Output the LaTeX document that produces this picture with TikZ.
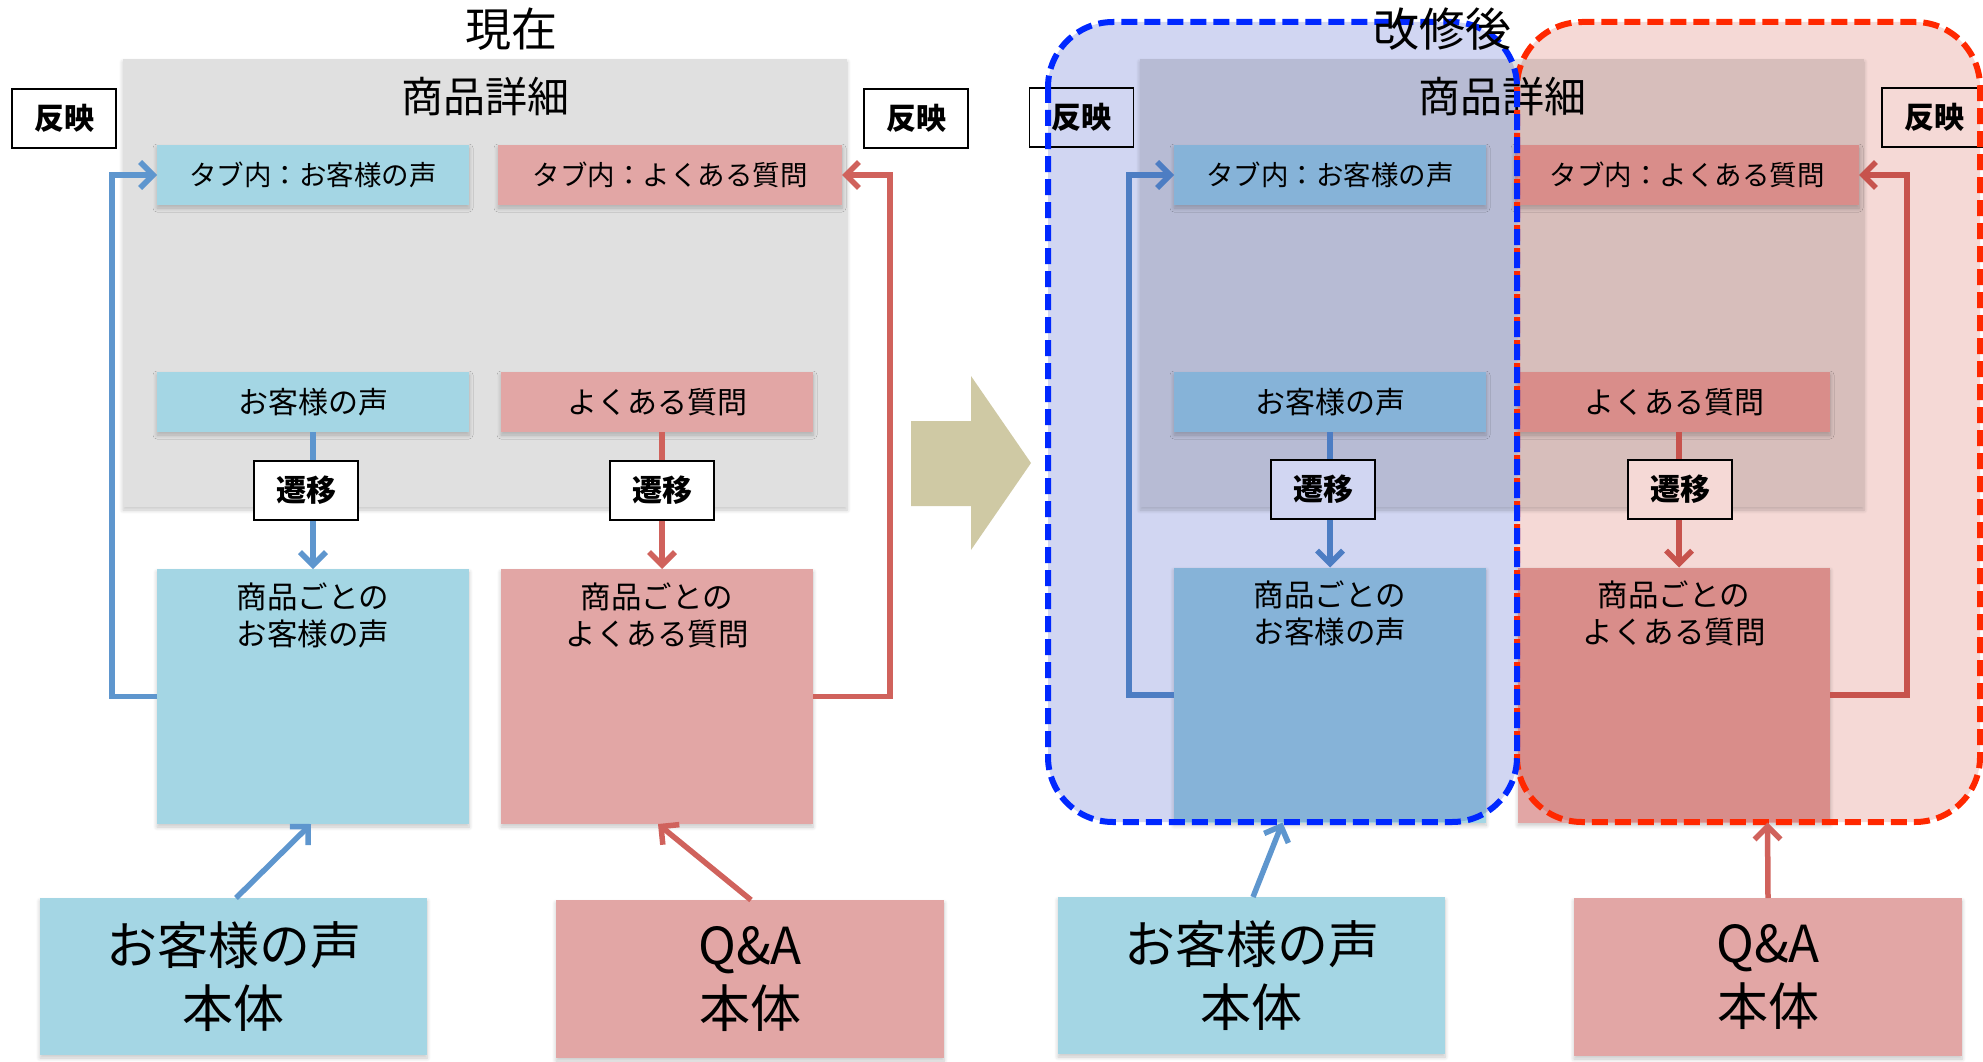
\documentclass[tikz,border=0pt]{standalone}
\usepackage{fontspec}
\setmainfont{Noto Sans CJK JP}
\usetikzlibrary{arrows.meta,shadows.blur,calc}
\definecolor{graybg}{RGB}{224,224,224}
\definecolor{lblue}{RGB}{164,214,228}
\definecolor{lpink}{RGB}{226,166,165}
\definecolor{ablue}{RGB}{94,150,206}
\definecolor{ared}{RGB}{208,98,92}
\definecolor{beige}{RGB}{207,201,164}
\definecolor{ovblue}{RGB}{209,214,242}
\definecolor{ovred}{RGB}{245,217,214}
\definecolor{dblue}{RGB}{0,40,255}
\definecolor{dred}{RGB}{255,40,0}
\begin{document}
\begin{tikzpicture}[x=1pt,y=-1pt,
  shadowed/.style={blur shadow={shadow xshift=0pt,shadow yshift=-3pt,shadow blur radius=4pt,shadow blur steps=6,shadow opacity=22}},
  cbox/.style={inner sep=0pt,outer sep=0pt,shadowed},
  graybox/.style={cbox,fill=graybg,minimum width=724pt,minimum height=448pt},
  bluebox/.style={cbox,fill=lblue},
  pinkbox/.style={cbox,fill=lpink},
  tabfont/.style={font=\fontsize{27.5}{30}\selectfont},
  midfont/.style={font=\fontsize{30}{33}\selectfont},
  tagbox/.style={draw=black,line width=1.8pt,fill=white,inner sep=0pt,outer sep=0pt,
    minimum width=104pt,minimum height=59pt,font=\fontsize{30}{33}\selectfont\bfseries},
  bbtext/.style={anchor=north,align=center,font=\fontsize{30.5}{37}\selectfont},
  hontext/.style={align=center,font=\fontsize{51}{63}\selectfont},
  titlefont/.style={font=\fontsize{46}{50}\selectfont},
  subtitle/.style={font=\fontsize{42}{46}\selectfont},
  arrB/.style={ablue,line width=5.5pt,-{Straight Barb[length=13pt,width=26pt]}},
  arrR/.style={ared,line width=5.5pt,-{Straight Barb[length=13pt,width=26pt]}},
  dashline/.style={line width=6pt,dash pattern=on 16pt off 7pt,rounded corners=65pt}
]
\useasboundingbox (0,0) rectangle (1983,1062);

% ================= left panel (current) =================
\node[graybox] (gray1) at (485,283) {};
\node[subtitle] (shosai1) at (485,96) {商品詳細};
\node[bluebox,tabfont,minimum width=312pt,minimum height=60pt] (tab1) at (313,175) {タブ内：お客様の声};
\node[pinkbox,tabfont,minimum width=344pt,minimum height=60pt] (tab2) at (670,175) {タブ内：よくある質問};
\node[bluebox,midfont,minimum width=312pt,minimum height=60pt] (mid1) at (313,402) {お客様の声};
\node[pinkbox,midfont,minimum width=312pt,minimum height=60pt] (mid2) at (657,402) {よくある質問};
\node[bluebox,minimum width=312pt,minimum height=255pt] (bb1) at (313,696.5) {};
\node[pinkbox,minimum width=312pt,minimum height=255pt] (bb2) at (657,696.5) {};
\node[bbtext] (bbt1) at ($(bb1.north)+(0,10)$) {商品ごとの\\お客様の声};
\node[bbtext] (bbt2) at ($(bb2.north)+(0,10)$) {商品ごとの\\よくある質問};

\draw[arrB] (mid1.south) -- (bb1.north);
\draw[arrR] ([xshift=5pt]mid2.south) -- ([xshift=5pt]bb2.north);
\draw[arrB] (bb1.west) -- ++(-45,0) |- (tab1.west);
\draw[arrR] (bb2.east) -- ++(77,0) |- (tab2.east);

\node[tagbox] (sen1) at (306,490.5) {遷移};
\node[tagbox] (sen2) at (662,490.5) {遷移};
\node[tagbox] (tag1) at (64,118.5) {反映};
\node[tagbox] (tag2) at (916,118.5) {反映};

% big arrow
\fill[beige] (911,421) -- (971,421) -- (971,376) -- (1031,463) -- (971,550) -- (971,506) -- (911,506) -- cycle;

% ================= right panel (after) =================
\node[graybox] (gray2) at (1502,283) {};
\node[subtitle] (shosai2) at (1502,96) {商品詳細};
\node[bluebox,tabfont,minimum width=312pt,minimum height=60pt] (tab3) at (1330,175) {タブ内：お客様の声};
\node[pinkbox,tabfont,minimum width=344pt,minimum height=60pt] (tab4) at (1687,175) {タブ内：よくある質問};
\node[bluebox,midfont,minimum width=312pt,minimum height=60pt] (mid3) at (1330,402) {お客様の声};
\node[pinkbox,midfont,minimum width=312pt,minimum height=60pt] (mid4) at (1674,402) {よくある質問};
\node[bluebox,minimum width=312pt,minimum height=255pt] (bb3) at (1330,695) {};
\node[pinkbox,minimum width=312pt,minimum height=255pt] (bb4) at (1674,695) {};
\node[bbtext] (bbt3) at ($(bb3.north)+(0,10)$) {商品ごとの\\お客様の声};
\node[bbtext] (bbt4) at ($(bb4.north)+(0,10)$) {商品ごとの\\よくある質問};

\draw[arrB] (mid3.south) -- (bb3.north);
\draw[arrR] ([xshift=5pt]mid4.south) -- ([xshift=5pt]bb4.north);
\draw[arrB] (bb3.west) -- ++(-45,0) |- (tab3.west);
\draw[arrR] (bb4.east) -- ++(77,0) |- (tab4.east);

\node[tagbox] (sen3) at (1323,489.5) {遷移};
\node[tagbox] (sen4) at (1680,489.5) {遷移};
\node[tagbox] (tag3) at (1081.5,117.5) {反映};
\node[tagbox] (tag4) at (1934,117.5) {反映};

% overlays (multiply)
\begin{scope}[blend mode=multiply]
  \fill[ovblue,rounded corners=65pt] (1048,22) rectangle (1517,822);
  \fill[ovred,rounded corners=65pt] (1517,22) rectangle (1980,822);
\end{scope}
\draw[dashline,dred] (1517,22) rectangle (1980,822);
\draw[dashline,dblue] (1048,22) rectangle (1517,822);

% ================= sources =================
\node[bluebox,hontext,minimum width=387pt,minimum height=157pt] (hon1) at (233.5,976.5) {お客様の声\\本体};
\node[pinkbox,hontext,minimum width=388pt,minimum height=158pt] (hon2) at (750,979) {Q\&A\\本体};
\node[bluebox,hontext,minimum width=387pt,minimum height=157pt] (hon3) at (1251.5,975.5) {お客様の声\\本体};
\node[pinkbox,hontext,minimum width=388pt,minimum height=158pt] (hon4) at (1768,977) {Q\&A\\本体};

\draw[arrB] ([xshift=2.5pt]hon1.north) -- ([xshift=-2pt]bb1.south);
\draw[arrR] ([xshift=1pt]hon2.north) -- ([xshift=1pt]bb2.south);
\draw[arrB] ([xshift=1.5pt]hon3.north) -- ([xshift=-47.5pt]bb3.south);
\draw[arrR] (hon4.north) -- ([xshift=93.5pt]bb4.south);

% titles
\node[titlefont] (title1) at (511,29) {現在};
\node[titlefont] (title2) at (1442,29) {改修後};
\end{tikzpicture}
\end{document}
